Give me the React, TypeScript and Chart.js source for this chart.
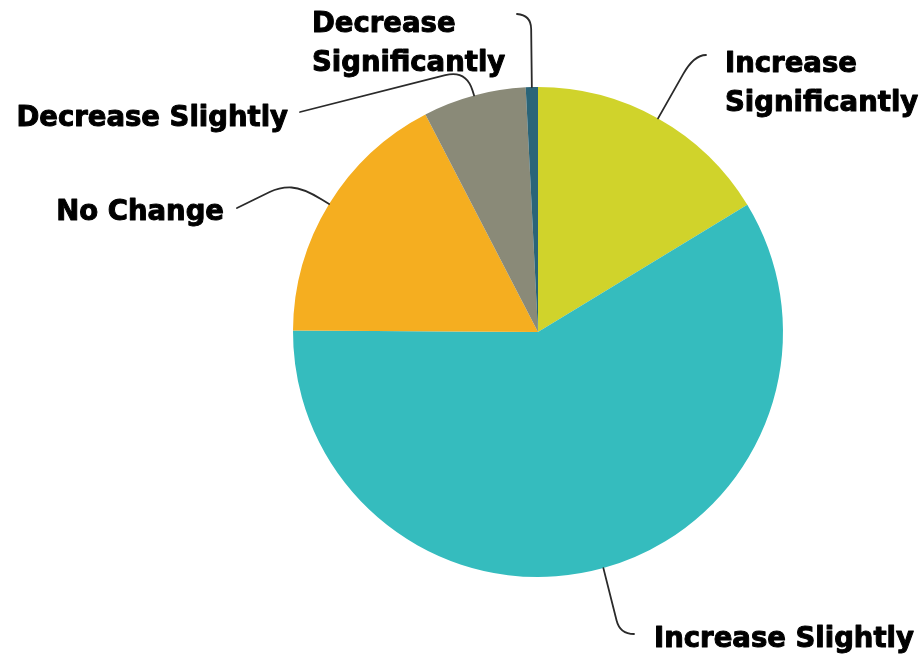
import React, { useEffect, useRef } from "react";
import { Chart, registerables } from "chart.js";

Chart.register(...registerables);

const categories = [
  "Increase Significantly",
  "Increase Slightly",
  "No Change",
  "Decrease Slightly",
  "Decrease Significantly",
];
const values = [16.3, 58.8, 17.3, 6.8, 0.8];
const colors = ["#D0D32B", "#35BCBE", "#F5AE20", "#8A8A78", "#2A6478"];

// label text lines and layout (offsets relative to pie centre, px)
const labelLines = [
  ["Increase", "Significantly"],
  ["Increase Slightly"],
  ["No Change"],
  ["Decrease Slightly"],
  ["Decrease", "Significantly"],
];
const labelLayout = [
  { pts: [[156, -277], [168, -277]], tx: 187, ty: -260, align: "left" },
  { pts: [[82, 302], [96, 302]], tx: 116, ty: 315, align: "left" },
  { pts: [[-235, -144], [-258, -145], [-301, -124]], tx: -314, ty: -112, align: "right" },
  { pts: [[-72, -262], [-238, -220]], tx: -250, ty: -206, align: "right" },
  { pts: [[-7, -317], [-21, -318]], tx: -226, ty: -300, align: "left" },
];

function roundedPath(ctx: CanvasRenderingContext2D, pts: number[][], r: number) {
  const n = pts.length;
  ctx.beginPath();
  ctx.moveTo(pts[0][0], pts[0][1]);
  for (let i = 1; i < n - 1; i++) {
    const [x0, y0] = pts[i - 1];
    const [x1, y1] = pts[i];
    const [x2, y2] = pts[i + 1];
    const d1 = Math.hypot(x1 - x0, y1 - y0);
    const d2 = Math.hypot(x2 - x1, y2 - y1);
    const lim1 = i - 1 > 0 ? d1 / 2 : d1 * 0.8;
    const lim2 = i + 1 < n - 1 ? d2 / 2 : d2;
    const rr = Math.min(r, lim1, lim2 < 14 ? 100 : lim2);
    const r2 = Math.min(rr, lim2);
    const ax = x1 - ((x1 - x0) / d1) * rr;
    const ay = y1 - ((y1 - y0) / d1) * rr;
    const bx = x1 + ((x2 - x1) / d2) * r2;
    const by = y1 + ((y2 - y1) / d2) * r2;
    ctx.lineTo(ax, ay);
    ctx.quadraticCurveTo(x1, y1, bx, by);
  }
  const last = pts[n - 1];
  ctx.lineTo(last[0], last[1]);
  ctx.stroke();
}

const labelPlugin = {
  id: "pieLabels",
  afterDatasetsDraw(chart: any) {
    const ctx = chart.ctx as CanvasRenderingContext2D;
    const meta = chart.getDatasetMeta(0);
    ctx.save();
    meta.data.forEach((arc: any, i: number) => {
      const p = arc.getProps(["x", "y", "startAngle", "endAngle", "outerRadius"], true);
      const mid = (p.startAngle + p.endAngle) / 2;
      const sx = p.x + Math.cos(mid) * p.outerRadius;
      const sy = p.y + Math.sin(mid) * p.outerRadius;
      const lay = labelLayout[i];
      const pts = [[sx, sy], ...lay.pts.map(([dx, dy]) => [p.x + dx, p.y + dy])];
      ctx.strokeStyle = "#2a2a2a";
      ctx.lineWidth = 1.8;
      ctx.lineCap = "round";
      ctx.lineJoin = "round";
      roundedPath(ctx, pts, 22);
      ctx.fillStyle = "#000000";
      ctx.strokeStyle = "#000000";
      ctx.lineWidth = 1;
      ctx.font = "bold 27.5px 'DejaVu Sans'";
      ctx.textAlign = lay.align as CanvasTextAlign;
      ctx.textBaseline = "alphabetic";
      labelLines[i].forEach((t, j) => {
        const x = p.x + lay.tx;
        const y = p.y + lay.ty + j * 39;
        ctx.fillText(t, x, y);
        ctx.strokeText(t, x, y);
      });
    });
    ctx.restore();
  },
};

export default function App() {
  const ref = useRef<HTMLCanvasElement | null>(null);
  useEffect(() => {
    document.body.style.margin = "0";
    const chart = new Chart(ref.current as HTMLCanvasElement, {
      type: "pie",
      data: {
        labels: categories,
        datasets: [
          {
            data: values,
            backgroundColor: colors,
            borderWidth: 0,
          },
        ],
      },
      options: {
        animation: false,
        responsive: false,
        layout: { padding: { left: 293, right: 136, top: 87, bottom: 79 } },
        plugins: {
          legend: { display: false },
          tooltip: { enabled: false },
        },
      },
      plugins: [labelPlugin],
    });
    return () => chart.destroy();
  }, []);
  return (
    <div style={{ position: "fixed", left: 0, top: 0, width: 919, height: 656, background: "#fff" }}>
      <canvas ref={ref} width={919} height={656} style={{ display: "block" }} />
    </div>
  );
}
